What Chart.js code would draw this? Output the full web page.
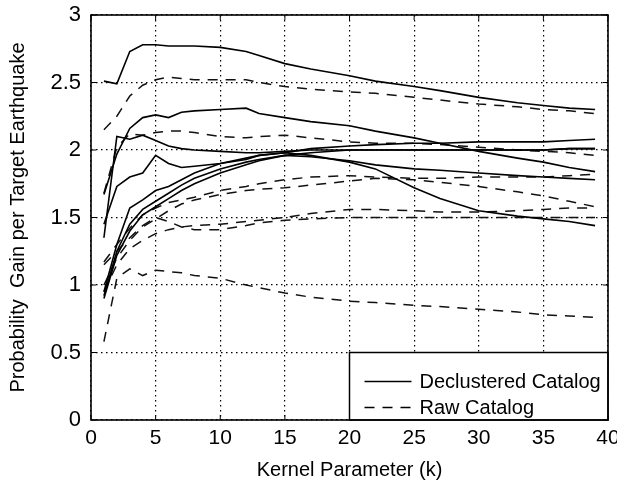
<!DOCTYPE html>
<html><head><meta charset="utf-8">
<script src="https://cdn.jsdelivr.net/npm/chart.js@4/dist/chart.umd.min.js"></script>
<style>html,body{margin:0;padding:0;background:#fff}#wrap{width:617px;height:483px}</style>
</head><body><div id="wrap"><canvas id="c" width="617" height="483"></canvas></div>
<script>
const kValues = [1,2,3,4,5,6,7,8,10,12,13,15,17,20,22,25,27,30,33,35,37,39];

// Declustered catalog (solid)
const declA = [2.51,2.49,2.73,2.78,2.78,2.77,2.77,2.77,2.76,2.73,2.70,2.64,2.60,2.55,2.51,2.47,2.44,2.39,2.35,2.33,2.31,2.30];
const declB = [1.67,1.97,2.16,2.24,2.26,2.24,2.28,2.29,2.30,2.31,2.27,2.24,2.21,2.18,2.14,2.09,2.05,1.99,1.94,1.91,1.87,1.84];
const declC = [1.35,2.10,2.08,2.11,2.07,2.03,2.01,2.00,1.99,1.98,1.98,1.99,2.00,2.00,2.00,2.00,2.00,2.00,2.00,2.00,2.01,2.01];
const declD = [1.45,1.73,1.80,1.83,1.96,1.90,1.87,1.88,1.90,1.93,1.96,1.98,1.96,1.91,1.86,1.72,1.64,1.55,1.51,1.49,1.47,1.44];
const declE = [0.95,1.30,1.57,1.63,1.70,1.73,1.78,1.83,1.90,1.94,1.96,1.98,2.01,2.03,2.04,2.05,2.05,2.06,2.06,2.06,2.07,2.08];
const declF = [0.92,1.25,1.45,1.56,1.62,1.68,1.74,1.79,1.86,1.91,1.93,1.96,1.98,2.00,2.00,2.00,2.00,2.00,2.00,2.00,2.01,2.01];
const declG = [0.90,1.22,1.40,1.52,1.58,1.64,1.70,1.75,1.83,1.89,1.92,1.96,1.95,1.92,1.89,1.86,1.85,1.83,1.81,1.80,1.79,1.78];

// Raw catalog (dashed)
const rawA = [2.15,2.25,2.40,2.48,2.52,2.54,2.53,2.52,2.52,2.52,2.50,2.47,2.45,2.43,2.42,2.39,2.37,2.34,2.32,2.30,2.29,2.27];
const rawB = [1.68,2.02,2.12,2.11,2.13,2.14,2.14,2.13,2.10,2.09,2.10,2.11,2.09,2.06,2.05,2.05,2.04,2.02,2.00,1.99,1.98,1.96];
const rawC = [1.17,1.30,1.42,1.52,1.57,1.61,1.63,1.65,1.70,1.73,1.75,1.78,1.80,1.81,1.80,1.79,1.79,1.80,1.80,1.80,1.81,1.82];
const rawD = [1.00,1.20,1.33,1.43,1.49,1.55,1.60,1.63,1.67,1.70,1.71,1.72,1.74,1.77,1.79,1.78,1.76,1.73,1.69,1.66,1.62,1.58];
const rawE = [0.95,1.15,1.27,1.33,1.38,1.41,1.43,1.44,1.45,1.47,1.48,1.50,1.53,1.56,1.56,1.55,1.54,1.54,1.55,1.56,1.57,1.57];
const rawF = [1.15,1.25,1.35,1.44,1.50,1.47,1.43,1.41,1.41,1.44,1.46,1.48,1.49,1.50,1.50,1.50,1.50,1.50,1.50,1.50,1.50,1.50];
const rawG = [0.58,1.05,1.12,1.07,1.11,1.10,1.09,1.07,1.05,1.00,0.98,0.94,0.91,0.88,0.87,0.85,0.84,0.82,0.80,0.78,0.77,0.76];

const xTickLabels = ['0','5','10','15','20','25','30','35','40'];
const yTickLabels = ['0','0.5','1','1.5','2','2.5','3'];
const legendLabels = ['Declustered Catalog','Raw Catalog'];

const FONT = "'Liberation Sans', Arial, Helvetica, sans-serif";
const DASH = [10, 8];

function pts(ys){ return ys.map((y,i)=>({x:kValues[i], y})); }
function solid(ys){ return {data:pts(ys), borderColor:'#000', borderWidth:1.6, pointRadius:0, fill:false, tension:0}; }
function dashed(ys){ return {data:pts(ys), borderColor:'#111', borderWidth:1.5, borderDash:DASH, pointRadius:0, fill:false, tension:0}; }

const datasets = [
  solid(declA), solid(declB), solid(declC), solid(declD), solid(declE), solid(declF), solid(declG),
  dashed(rawA), dashed(rawB), dashed(rawC), dashed(rawD), dashed(rawE), dashed(rawF), dashed(rawG)
];

const framePlugin = {
  id:'frame',
  afterDatasetsDraw(chart){
    const {ctx, chartArea:a, scales:{x, y}} = chart;
    ctx.save();
    ctx.strokeStyle = '#000'; ctx.lineWidth = 1; ctx.setLineDash([]);
    x.ticks.forEach(t=>{ const px = x.getPixelForValue(t.value);
      ctx.beginPath(); ctx.moveTo(px,a.bottom); ctx.lineTo(px,a.bottom-5); ctx.moveTo(px,a.top); ctx.lineTo(px,a.top+5); ctx.stroke(); });
    y.ticks.forEach(t=>{ const py = y.getPixelForValue(t.value);
      ctx.beginPath(); ctx.moveTo(a.left,py); ctx.lineTo(a.left+5,py); ctx.moveTo(a.right,py); ctx.lineTo(a.right-5,py); ctx.stroke(); });
    const lx = x.getPixelForValue(20), ly = y.getPixelForValue(0.5);
    ctx.fillStyle = '#fff';
    ctx.fillRect(lx, ly, a.right-lx, a.bottom-ly);
    ctx.lineWidth = 1.5; ctx.strokeStyle = '#000';
    ctx.strokeRect(lx, ly, a.right-lx, a.bottom-ly);
    const rows = [ly+29, ly+55];
    ctx.font = "20px " + FONT; ctx.fillStyle = '#000'; ctx.textBaseline = 'middle'; ctx.textAlign = 'left';
    rows.forEach((ry,i)=>{
      ctx.beginPath(); ctx.lineWidth = 1.6;
      ctx.setLineDash(i===0?[]:DASH);
      ctx.moveTo(lx+15, ry); ctx.lineTo(lx+62, ry); ctx.stroke();
      ctx.setLineDash([]);
      ctx.fillText(legendLabels[i], lx+70, ry+1);
    });
    ctx.lineWidth = 1.6;
    ctx.strokeRect(a.left, a.top, a.right-a.left, a.bottom-a.top);
    ctx.restore();
  }
};

new Chart(document.getElementById('c'), {
  type:'line',
  data:{datasets},
  options:{
    responsive:false, animation:false, devicePixelRatio:1,
    layout:{padding:{top:15,right:9,left:0,bottom:0}},
    plugins:{legend:{display:false}, tooltip:{enabled:false}},
    scales:{
      x:{type:'linear', min:0, max:40,
        afterFit(s){ s.height = 63; s.paddingLeft = 0; s.paddingRight = 0; },
        ticks:{stepSize:5, color:'#000', font:{family:FONT,size:21}, padding:6, maxRotation:0,
          callback:(v,i)=>xTickLabels[i]},
        grid:{color:'#000', lineWidth:1.2, drawTicks:false},
        border:{display:false, dash:[1.5,3.5]},
        title:{display:true, text:'Kernel Parameter (k)', color:'#000', font:{family:FONT,size:20}, padding:{top:0,bottom:1}}
      },
      y:{min:0, max:3,
        afterFit(s){ s.width = 91; s.paddingTop = 0; s.paddingBottom = 0; },
        ticks:{stepSize:0.5, color:'#000', font:{family:FONT,size:22}, padding:10,
          callback:(v,i)=>yTickLabels[i]},
        grid:{color:'#000', lineWidth:1.2, drawTicks:false},
        border:{display:false, dash:[1.5,3.5]},
        title:{display:true, text:'Probability  Gain per Target Earthquake', color:'#000', font:{family:FONT,size:20}, padding:{top:6,bottom:0}}
      }
    }
  },
  plugins:[framePlugin]
});
</script></body></html>
